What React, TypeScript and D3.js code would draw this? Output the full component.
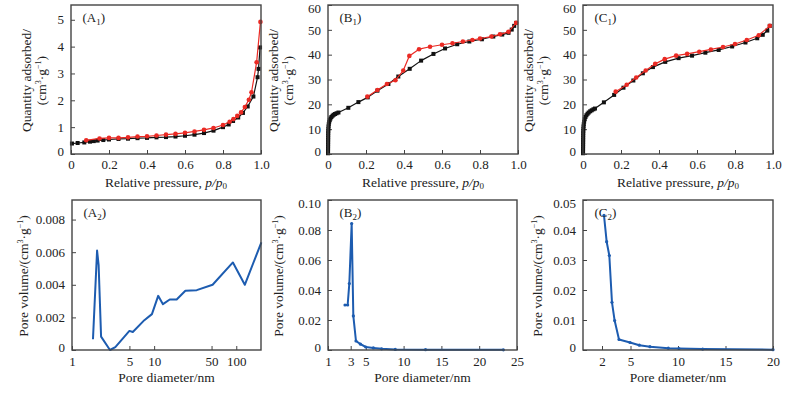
import { useEffect, useRef } from "react";
import * as d3 from "d3";

type Pt = [number, number];

// ---- N2 isotherms: [relative pressure p/p0, quantity adsorbed cm3/g] ----
const a1Adsorption: Pt[] = [
  [0.005, 0.39], [0.035, 0.41], [0.07, 0.43], [0.1, 0.46], [0.12, 0.48], [0.14, 0.5],
  [0.17, 0.52], [0.2, 0.54], [0.25, 0.56], [0.3, 0.57], [0.35, 0.59], [0.4, 0.6],
  [0.45, 0.62], [0.5, 0.63], [0.55, 0.65], [0.6, 0.68], [0.65, 0.72], [0.7, 0.78],
  [0.75, 0.87], [0.8, 1.0], [0.83, 1.1], [0.853, 1.23], [0.88, 1.36], [0.905, 1.53],
  [0.93, 1.77], [0.96, 2.14], [0.982, 2.86], [0.987, 3.17], [0.995, 3.97],
];
const a1Desorption: Pt[] = [
  [0.997, 4.92], [0.977, 3.42], [0.95, 2.3], [0.936, 2.02], [0.915, 1.75], [0.895, 1.55],
  [0.875, 1.42], [0.855, 1.3], [0.835, 1.2], [0.8, 1.08], [0.75, 0.97], [0.7, 0.9],
  [0.65, 0.84], [0.6, 0.79], [0.55, 0.75], [0.5, 0.72], [0.45, 0.69], [0.4, 0.66],
  [0.35, 0.65], [0.3, 0.62], [0.25, 0.6], [0.2, 0.6], [0.15, 0.58], [0.08, 0.51],
];
const b1Adsorption: Pt[] = [
  [0.0002, 0.3], [0.0003, 1.2], [0.0004, 2.1], [0.0005, 3], [0.0006, 3.9], [0.0007, 4.8],
  [0.0008, 5.7], [0.0009, 6.6], [0.001, 7.5], [0.0012, 8.4], [0.0015, 9.3], [0.002, 10.2],
  [0.003, 11.1], [0.004, 12], [0.006, 12.8], [0.009, 13.6], [0.013, 14.3], [0.018, 14.9],
  [0.024, 15.4], [0.03, 15.8], [0.037, 16.1], [0.045, 16.4], [0.055, 16.7], [0.107, 18.6],
  [0.16, 20.9], [0.209, 22.8], [0.26, 25.5], [0.318, 28.2], [0.37, 31.2], [0.43, 34.3],
  [0.49, 37.6], [0.555, 40.3], [0.616, 42.5], [0.68, 44.2], [0.744, 45.3], [0.81, 46.2],
  [0.87, 47.3], [0.917, 48.1], [0.95, 48.8], [0.967, 50.1], [0.98, 51.6], [0.99, 52.8],
];
const b1Desorption: Pt[] = [
  [0.99, 52.8], [0.95, 49.2], [0.905, 48.2], [0.86, 47.3], [0.8, 46.5], [0.76, 45.9],
  [0.71, 45.3], [0.655, 44.6], [0.6, 44.0], [0.537, 43.2], [0.479, 42.2], [0.428, 39.5],
  [0.396, 33.6], [0.355, 29.7], [0.31, 28.2], [0.26, 25.8], [0.207, 23.1],
];
const c1Adsorption: Pt[] = [
  [0.0002, 0.3], [0.0003, 1.2], [0.0004, 2.1], [0.0005, 3], [0.0006, 3.9], [0.0007, 4.8],
  [0.0008, 5.7], [0.0009, 6.6], [0.001, 7.5], [0.0012, 8.4], [0.0015, 9.3], [0.002, 10.2],
  [0.003, 11.1], [0.004, 12], [0.006, 13], [0.009, 14], [0.013, 14.9], [0.018, 15.6],
  [0.024, 16.2], [0.03, 16.7], [0.038, 17.2], [0.046, 17.6], [0.055, 18], [0.063, 18.3],
  [0.11, 20.8], [0.164, 23.8], [0.213, 26.7], [0.265, 29.6], [0.315, 32.5], [0.368, 35],
  [0.433, 37.1], [0.503, 38.6], [0.574, 39.6], [0.644, 40.8], [0.714, 41.9], [0.785, 43.3],
  [0.855, 44.9], [0.917, 46.6], [0.946, 48], [0.97, 49.7], [0.983, 51.6],
];
const c1Desorption: Pt[] = [
  [0.983, 51.6], [0.925, 47.8], [0.862, 45.9], [0.8, 44.3], [0.737, 43.1], [0.673, 42.1],
  [0.612, 41.2], [0.548, 40.3], [0.49, 39.6], [0.43, 38.2], [0.38, 36.3], [0.33, 33.6],
  [0.28, 30.8], [0.23, 27.9], [0.172, 25.1],
];

// ---- pore size distributions: [pore diameter nm, pore volume cm3/g] ----
const a2Pores: Pt[] = [
  [1.8, 0.00066], [2.02, 0.0061], [2.11, 0.0052], [2.26, 0.00082], [2.9, 0.0], [3.37, 0.00018],
  [5.0, 0.00117], [5.5, 0.0011], [7.6, 0.00183], [9.4, 0.0022], [11.2, 0.00332], [12.8, 0.00281],
  [15.5, 0.0031], [18.8, 0.0031], [24, 0.00363], [33, 0.00367], [51.5, 0.004], [91, 0.00537],
  [127, 0.004], [202, 0.0066],
];
const b2Pores: Pt[] = [
  [2.25, 0.03], [2.6, 0.03], [2.82, 0.0443], [3.13, 0.0843], [3.35, 0.0227], [3.7, 0.006],
  [4.3, 0.0039], [5.0, 0.002], [6.0, 0.0014], [7.1, 0.0008], [8.9, 0.0004], [12.9, 0.0002],
  [23.2, 0.0001],
];
const c2Pores: Pt[] = [
  [2.21, 0.0449], [2.49, 0.0361], [2.77, 0.0315], [3.05, 0.0159], [3.33, 0.0098], [3.79, 0.0035],
  [4.95, 0.0025], [5.93, 0.0016], [7.05, 0.0011], [8.98, 0.0006], [10.1, 0.0005], [12.6, 0.0003],
  [20, 0.0001],
];

// ---- ticks ----
const isoTicksX = [0, 0.2, 0.4, 0.6, 0.8, 1.0];
const isoTickLabelsX = ["0", "0.2", "0.4", "0.6", "0.8", "1.0"];
const a1TicksY = [0, 1, 2, 3, 4, 5];
const bcTicksY = [0, 10, 20, 30, 40, 50, 60];
const a2TicksX = [1, 5, 10, 50, 100];
const a2TicksY = [0, 0.002, 0.004, 0.006, 0.008];
const a2TickLabelsY = ["0", "0.002", "0.004", "0.006", "0.008"];
const b2TicksX = [0, 3, 5, 10, 15, 20, 25];
const b2TickLabelsX = ["1", "3", "5", "10", "15", "20", "25"];
const b2TicksY = [0, 0.02, 0.04, 0.06, 0.08, 0.1];
const b2TickLabelsY = ["0", "0.02", "0.04", "0.06", "0.08", "0.10"];
const c2TicksX = [2, 5, 10, 15, 20];
const c2TicksY = [0, 0.01, 0.02, 0.03, 0.04, 0.05];
const c2TickLabelsY = ["0", "0.01", "0.02", "0.03", "0.04", "0.05"];

const FONT = "'Liberation Serif', 'Times New Roman', serif";
const RED = "#ea2a24";
const BLACK = "#111";
const BLUE = "#1d5cb0";
const FRAME = "#444";

type Series = { data: Pt[]; color: string; width: number; marker: "square" | "circle" | "dot" | "none" };
type Panel = {
  left: number; right: number; top: number; bottom: number;
  xDomain: [number, number]; yDomain: [number, number]; logX?: boolean;
  xTicks: number[]; xLabels: string[]; yTicks: number[]; yLabels: string[];
  series: Series[];
  tag: string; sub: string;
  kind: "iso" | "pore";
  yTitleX: number;
};

const panels: Panel[] = [
  {
    left: 71, right: 261, top: 5, bottom: 154, xDomain: [0, 1], yDomain: [0, 5.55],
    xTicks: isoTicksX, xLabels: isoTickLabelsX, yTicks: a1TicksY, yLabels: a1TicksY.map(String),
    series: [
      { data: a1Adsorption, color: BLACK, width: 1.2, marker: "square" },
      { data: a1Desorption, color: RED, width: 1.2, marker: "circle" },
    ],
    tag: "A", sub: "1", kind: "iso", yTitleX: -40,
  },
  {
    left: 328, right: 518, top: 5, bottom: 154, xDomain: [0, 1], yDomain: [0, 60],
    xTicks: isoTicksX, xLabels: isoTickLabelsX, yTicks: bcTicksY, yLabels: bcTicksY.map(String),
    series: [
      { data: b1Adsorption, color: BLACK, width: 1.2, marker: "square" },
      { data: b1Desorption, color: RED, width: 1.2, marker: "circle" },
    ],
    tag: "B", sub: "1", kind: "iso", yTitleX: -50.5,
  },
  {
    left: 583, right: 773, top: 5, bottom: 154, xDomain: [0, 1], yDomain: [0, 60],
    xTicks: isoTicksX, xLabels: isoTickLabelsX, yTicks: bcTicksY, yLabels: bcTicksY.map(String),
    series: [
      { data: c1Adsorption, color: BLACK, width: 1.2, marker: "square" },
      { data: c1Desorption, color: RED, width: 1.2, marker: "circle" },
    ],
    tag: "C", sub: "1", kind: "iso", yTitleX: -50.5,
  },
  {
    left: 72, right: 261, top: 200, bottom: 350, xDomain: [1, 200], yDomain: [0, 0.0092], logX: true,
    xTicks: a2TicksX, xLabels: a2TicksX.map(String), yTicks: a2TicksY, yLabels: a2TickLabelsY,
    series: [{ data: a2Pores, color: BLUE, width: 2, marker: "none" }],
    tag: "A", sub: "2", kind: "pore", yTitleX: -44.5,
  },
  {
    left: 328, right: 517, top: 200, bottom: 350, xDomain: [0, 25], yDomain: [0, 0.1],
    xTicks: b2TicksX, xLabels: b2TickLabelsX, yTicks: b2TicksY, yLabels: b2TickLabelsY,
    series: [{ data: b2Pores, color: BLUE, width: 2, marker: "dot" }],
    tag: "B", sub: "2", kind: "pore", yTitleX: -45.5,
  },
  {
    left: 583, right: 773, top: 200, bottom: 350, xDomain: [0, 20], yDomain: [0, 0.05],
    xTicks: c2TicksX, xLabels: c2TicksX.map(String), yTicks: c2TicksY, yLabels: c2TickLabelsY,
    series: [{ data: c2Pores, color: BLUE, width: 2, marker: "dot" }],
    tag: "C", sub: "2", kind: "pore", yTitleX: -41.5,
  },
];

function drawPanel(svg: any, p: Panel) {
  const x: any = p.logX
    ? d3.scaleLog().domain(p.xDomain).range([p.left, p.right])
    : d3.scaleLinear().domain(p.xDomain).range([p.left, p.right]);
  const y = d3.scaleLinear().domain(p.yDomain).range([p.bottom, p.top]);
  const g = svg.append("g");

  // axes, ticks pointing inward
  const xa = g
    .append("g")
    .attr("transform", `translate(0,${p.bottom})`)
    .call(
      d3.axisBottom(x).tickValues(p.xTicks).tickSize(-4).tickPadding(p.kind === "iso" ? 6 : 7)
        .tickFormat((_d: any, i: number) => p.xLabels[i])
    );
  const ya = g
    .append("g")
    .attr("transform", `translate(${p.left},0)`)
    .call(
      d3.axisLeft(y).tickValues(p.yTicks).tickSize(-4).tickPadding(7)
        .tickFormat((_d: any, i: number) => p.yLabels[i])
    );
  [xa, ya].forEach((a) => {
    a.select(".domain").remove();
    a.selectAll("line").attr("stroke", FRAME).attr("stroke-width", 1);
    a.selectAll("text").attr("font-family", FONT).attr("font-size", 13).attr("fill", "#222");
  });
  // labels sitting on the frame corners are nudged inside, as in the original
  ya.selectAll(".tick text").attr("y", (d: number) => {
    const py = y(d);
    if (py - p.top < 4) return 3.5;
    if (p.bottom - py < 1) return -3;
    return 0;
  });

  // curves
  const line = d3.line<Pt>().x((d) => x(d[0])).y((d) => y(d[1]));
  p.series.forEach((s) => {
    g.append("path")
      .datum(s.data)
      .attr("d", line)
      .attr("fill", "none")
      .attr("stroke", s.color)
      .attr("stroke-width", s.width)
      .attr("stroke-linejoin", "round");
    if (s.marker === "square") {
      g.selectAll(null).data(s.data).enter().append("rect")
        .attr("x", (d: Pt) => x(d[0]) - 2).attr("y", (d: Pt) => y(d[1]) - 2)
        .attr("width", 4).attr("height", 4).attr("fill", s.color);
    } else if (s.marker === "circle" || s.marker === "dot") {
      g.selectAll(null).data(s.data).enter().append("circle")
        .attr("cx", (d: Pt) => x(d[0])).attr("cy", (d: Pt) => y(d[1]))
        .attr("r", s.marker === "circle" ? 2.3 : 1.6).attr("fill", s.color);
    }
  });

  // frame
  g.append("rect")
    .attr("x", p.left).attr("y", p.top)
    .attr("width", p.right - p.left).attr("height", p.bottom - p.top)
    .attr("fill", "none").attr("stroke", FRAME).attr("stroke-width", 1.4);

  // panel tag
  const tag = g.append("text")
    .attr("x", p.left + 11.5).attr("y", p.top + 16.5)
    .attr("font-family", FONT).attr("font-size", 13).attr("fill", "#222");
  tag.append("tspan").text(`(${p.tag}`);
  tag.append("tspan").attr("font-size", 9).attr("dy", 3).text(p.sub);
  tag.append("tspan").attr("dy", -3).text(")");

  // x title
  const cx = (p.left + p.right) / 2;
  const xt = g.append("text")
    .attr("x", cx).attr("y", p.kind === "iso" ? 187 : 382)
    .attr("text-anchor", "middle")
    .attr("font-family", FONT).attr("font-size", 13.5).attr("fill", "#222");
  if (p.kind === "iso") {
    xt.append("tspan").text("Relative pressure, ");
    xt.append("tspan").attr("font-style", "italic").text("p/p");
    xt.append("tspan").attr("font-size", 9).attr("dy", 2).text("0");
  } else {
    xt.append("tspan").text("Pore diameter/nm");
  }

  // y title
  const cy = (p.top + p.bottom) / 2;
  const yt = g.append("g").attr("transform", `translate(${p.left + p.yTitleX},${cy + 1}) rotate(-90)`);
  const addText = (dx: number) =>
    yt.append("text").attr("x", 0).attr("y", dx).attr("text-anchor", "middle")
      .attr("font-family", FONT).attr("font-size", 13.5).attr("fill", "#222");
  const addUnit = (t: any) => {
    t.append("tspan").attr("font-size", 8).attr("dy", -5).text("3");
    t.append("tspan").attr("dy", 5).text("·g");
    t.append("tspan").attr("font-size", 8).attr("dy", -5).text("−1");
    t.append("tspan").attr("dy", 5).text(")");
  };
  if (p.kind === "iso") {
    addText(0).text("Quantity adsorbed/");
    const t2 = addText(15);
    t2.append("tspan").text("(cm");
    addUnit(t2);
  } else {
    const t = addText(0);
    t.append("tspan").text("Pore volume/(cm");
    addUnit(t);
  }
}

export default function App() {
  const svgRef = useRef<SVGSVGElement | null>(null);

  useEffect(() => {
    if (!svgRef.current) return;
    const svg = d3.select(svgRef.current);
    svg.selectAll("*").remove();
    panels.forEach((p) => drawPanel(svg, p));
  }, []);

  return (
    <svg
      ref={svgRef}
      width={800}
      height={393}
      style={{ position: "absolute", left: 0, top: 0, background: "#fff" }}
    />
  );
}
